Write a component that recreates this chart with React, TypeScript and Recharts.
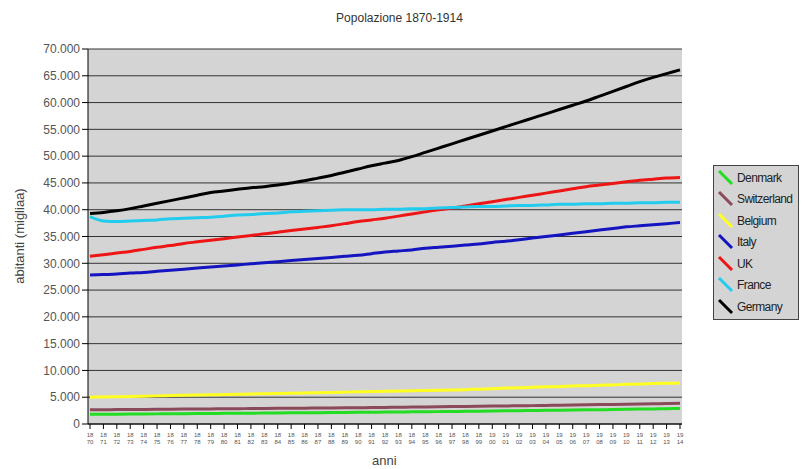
import {
  CartesianGrid,
  Legend,
  Line,
  LineChart,
  XAxis,
  YAxis,
} from "recharts";

const years = [
  "1870", "1871", "1872", "1873", "1874", "1875", "1876", "1877", "1878", "1879",
  "1880", "1881", "1882", "1883", "1884", "1885", "1886", "1887", "1888", "1889",
  "1890", "1891", "1892", "1893", "1894", "1895", "1896", "1897", "1898", "1899",
  "1900", "1901", "1902", "1903", "1904", "1905", "1906", "1907", "1908", "1909",
  "1910", "1911", "1912", "1913", "1914",
];

// population in thousands
const denmark = [
  1800, 1820, 1840, 1850, 1870, 1890, 1910, 1930, 1950, 1970,
  1990, 2000, 2020, 2040, 2060, 2080, 2100, 2120, 2140, 2160,
  2180, 2200, 2220, 2240, 2270, 2290, 2310, 2340, 2370, 2400,
  2430, 2460, 2490, 2520, 2550, 2580, 2610, 2640, 2670, 2700,
  2740, 2780, 2820, 2860, 2900,
];
const switzerland = [
  2650, 2670, 2690, 2710, 2720, 2740, 2760, 2780, 2800, 2820,
  2840, 2860, 2880, 2900, 2920, 2940, 2960, 2980, 3000, 3020,
  3040, 3070, 3100, 3130, 3160, 3190, 3220, 3250, 3280, 3310,
  3340, 3370, 3400, 3430, 3460, 3500, 3540, 3580, 3620, 3660,
  3700, 3740, 3780, 3820, 3880,
];
const belgium = [
  5000, 5050, 5100, 5150, 5200, 5250, 5300, 5350, 5400, 5450,
  5500, 5550, 5600, 5650, 5700, 5750, 5800, 5850, 5900, 5950,
  6000, 6050, 6100, 6150, 6200, 6250, 6300, 6350, 6400, 6500,
  6600, 6700, 6750, 6850, 6950, 7000, 7100, 7150, 7250, 7300,
  7400, 7450, 7550, 7600, 7650,
];
const italy = [
  27800, 27900, 28000, 28200, 28300, 28500, 28700, 28900, 29100, 29300,
  29500, 29700, 29900, 30100, 30300, 30500, 30700, 30900, 31100, 31300,
  31500, 31800, 32100, 32300, 32500, 32800, 33000, 33200, 33400, 33600,
  33900, 34100, 34400, 34700, 35000, 35300, 35600, 35900, 36200, 36500,
  36800, 37000, 37200, 37400, 37600,
];
const uk = [
  31300, 31600, 31900, 32200, 32600, 33000, 33300, 33700, 34000, 34300,
  34600, 34900, 35200, 35500, 35800, 36100, 36400, 36700, 37000, 37400,
  37800, 38100, 38400, 38800, 39200, 39600, 40000, 40300, 40700, 41100,
  41500, 41900, 42300, 42700, 43100, 43500, 43900, 44300, 44600, 44900,
  45200, 45500, 45700, 45900, 46000,
];
const france = [
  38700, 37900, 37800, 37900, 38000, 38100, 38300, 38400, 38500, 38600,
  38800, 39000, 39100, 39300, 39400, 39600, 39700, 39800, 39900, 40000,
  40000, 40000, 40100, 40100, 40200, 40200, 40300, 40400, 40500, 40600,
  40600, 40700, 40800, 40800, 40900, 41000, 41000, 41100, 41100, 41200,
  41200, 41300, 41300, 41400, 41400,
];
const germany = [
  39300, 39500, 39800, 40200, 40700, 41200, 41700, 42200, 42700, 43200,
  43500, 43800, 44100, 44300, 44600, 45000, 45400, 45900, 46400, 47000,
  47600, 48200, 48700, 49200, 49900, 50700, 51500, 52300, 53100, 53900,
  54700, 55500, 56300, 57100, 57900, 58700, 59500, 60300, 61200, 62100,
  63000, 63900, 64700, 65400, 66100,
];

const yTicks = [
  0, 5000, 10000, 15000, 20000, 25000, 30000, 35000,
  40000, 45000, 50000, 55000, 60000, 65000, 70000,
];

const series = [
  { key: "Denmark", values: denmark, color: "#22dd22" },
  { key: "Switzerland", values: switzerland, color: "#8a4a5a" },
  { key: "Belgium", values: belgium, color: "#ffff22" },
  { key: "Italy", values: italy, color: "#1414c0" },
  { key: "UK", values: uk, color: "#ee1515" },
  { key: "France", values: france, color: "#22ccee" },
  { key: "Germany", values: germany, color: "#000000" },
];
const order = series.map((s) => s.key);

const data = years.map((year, i) => {
  const row: Record<string, string | number> = { year };
  series.forEach((s) => {
    row[s.key] = s.values[i];
  });
  return row;
});

const fmt = (v: number) =>
  v === 0 ? "0" : `${Math.floor(v / 1000)}.${String(v % 1000).padStart(3, "0")}`;

function YearTick({ x, y, payload }: any) {
  const label = String(payload.value);
  return (
    <g transform={`translate(${x},${y})`}>
      <text textAnchor="middle" fontSize={6} fill="#555" fontFamily="Liberation Sans, Arial, sans-serif">
        <tspan x={0} dy={6}>{label.slice(0, 2)}</tspan>
        <tspan x={0} dy={7}>{label.slice(2)}</tspan>
      </text>
    </g>
  );
}

function LegendBox({ payload }: any) {
  const items = [...(payload || [])].sort(
    (a: any, b: any) => order.indexOf(a.value) - order.indexOf(b.value)
  );
  return (
    <div
      style={{
        width: 86,
        height: 155,
        border: "1px solid #444",
        background: "#d4d4d4",
        boxSizing: "border-box",
        paddingTop: 1,
        fontFamily: "Liberation Sans, Arial, sans-serif",
        fontSize: 12,
        color: "#222",
      }}
    >
      {items.map((p: any) => (
        <div key={p.value} style={{ display: "flex", alignItems: "center", height: 21.5 }}>
          <svg width={20} height={18} style={{ marginLeft: 2 }}>
            <line x1={3} y1={2} x2={16} y2={15} stroke={p.color} strokeWidth={3} />
          </svg>
          <span style={{ letterSpacing: -0.6, marginLeft: 1 }}>{p.value}</span>
        </div>
      ))}
    </div>
  );
}

export default function App() {
  return (
    <div style={{ position: "absolute", left: 0, top: 0, width: 811, height: 469, background: "#fff" }}>
      <LineChart
        width={811}
        height={469}
        data={data}
        margin={{ top: 49, right: 129, left: 26, bottom: 15 }}
      >
        <CartesianGrid
          vertical={false}
          stroke="#333"
          fill="#d4d4d4"
          fillOpacity={1}
        />
        <XAxis
          dataKey="year"
          interval={0}
          height={30}
          tick={<YearTick />}
          tickSize={5}
          axisLine={{ stroke: "#000" }}
          tickLine={{ stroke: "#000" }}
          padding={{ left: 2, right: 2 }}
        />
        <YAxis
          domain={[0, 70000]}
          ticks={yTicks}
          interval={0}
          width={62}
          tickSize={6}
          tickFormatter={fmt}
          tick={{ fontSize: 12, fill: "#555", fontFamily: "Liberation Sans, Arial, sans-serif" }}
          axisLine={{ stroke: "#000" }}
          tickLine={{ stroke: "#000" }}
        />
        <Legend
          layout="vertical"
          align="center"
          verticalAlign="middle"
          content={<LegendBox />}
          wrapperStyle={{ left: 713, top: 165, width: 88 }}
        />
        {series.map((s) => (
          <Line
            key={s.key}
            dataKey={s.key}
            name={s.key}
            type="monotone"
            stroke={s.color}
            strokeWidth={3}
            dot={false}
            isAnimationActive={false}
          />
        ))}
      </LineChart>
      <div
        style={{
          position: "absolute",
          left: 0,
          width: 811,
          top: 11,
          textAlign: "center",
          fontFamily: "Liberation Sans, Arial, sans-serif",
          fontSize: 12,
          color: "#333",
        }}
      >
        <span style={{ position: "relative", left: -6 }}>Popolazione 1870-1914</span>
      </div>
      <div
        style={{
          position: "absolute",
          left: 11,
          top: 236,
          transform: "translate(-50%, -50%) rotate(-90deg)",
          transformOrigin: "center",
          whiteSpace: "nowrap",
          fontFamily: "Liberation Sans, Arial, sans-serif",
          fontSize: 13,
          color: "#444",
          marginLeft: 8,
        }}
      >
        abitanti (migliaa)
      </div>
      <div
        style={{
          position: "absolute",
          left: 372,
          top: 453,
          fontFamily: "Liberation Sans, Arial, sans-serif",
          fontSize: 13,
          color: "#444",
        }}
      >
        anni
      </div>
    </div>
  );
}
